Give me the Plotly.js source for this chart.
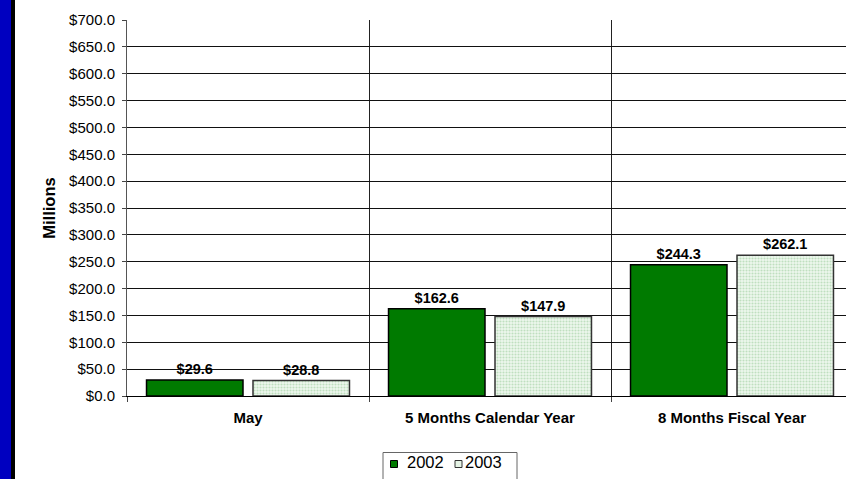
<!DOCTYPE html>
<html><head><meta charset="utf-8">
<script src="https://cdn.plot.ly/plotly-3.0.1.min.js"></script>
<style>html,body{margin:0;padding:0;overflow:hidden;background:#fff;width:846px;height:479px}</style>
</head><body><div id="chart"></div>
<script>
const categories = ["May", "5 Months Calendar Year", "8 Months Fiscal Year"];
const values2002 = [29.6, 162.6, 244.3];
const values2003 = [28.8, 147.9, 262.1];
const seriesNames = ["2002", "2003"];

const W = 860, H = 479, L = 127, R = 7, T = 20, B = 83;
const pw = W - L - R, ph = H - T - B;
const px = v => (v - L) / pw;          // pixel -> paper x
const py = v => (H - B - v) / ph;      // pixel -> paper y
const font = "Liberation Sans, Arial, sans-serif";
const c2002 = "#007a00", c2003 = "#e6f4e6";

const traces = [
  {type: "bar", name: seriesNames[0], x: categories, y: values2002,
   marker: {color: c2002, line: {color: "#000", width: 1.5}},
   texttemplate: "$%{y:.1f}", textposition: "outside", cliponaxis: false,
   textfont: {family: font, size: 14.5, color: "#000", weight: "bold"}},
  {type: "bar", name: seriesNames[1], x: categories, y: values2003,
   marker: {color: c2003, line: {color: "#333", width: 1.5},
            pattern: {shape: ".", fgcolor: "#bfdfbf", bgcolor: "#eef8ee", size: 3, solidity: 0.4}},
   texttemplate: "$%{y:.1f}", textposition: "outside", cliponaxis: false,
   textfont: {family: font, size: 14.5, color: "#000", weight: "bold"}}
];

const legendItems = [
  {sq: 390.5, tx: 405, color: c2002, line: "#000", name: seriesNames[0]},
  {sq: 455, tx: 463, color: c2003, line: "#333", name: seriesNames[1]}
];
const shapes = [
  {type: "rect", xref: "paper", yref: "paper", x0: px(0), x1: px(11), y0: py(H + 5), y1: py(-5),
   fillcolor: "#0000c0", line: {width: 0}, layer: "above"},
  {type: "rect", xref: "paper", yref: "paper", x0: px(11), x1: px(15), y0: py(H + 5), y1: py(-5),
   fillcolor: "#000", line: {width: 0}, layer: "above"},
  {type: "rect", xref: "paper", yref: "paper", x0: px(383), x1: px(517), y0: py(490), y1: py(452.5),
   fillcolor: "rgba(0,0,0,0)", line: {color: "#666", width: 1}, layer: "above"}
];
const annotations = [];
legendItems.forEach(it => {
  shapes.push({type: "rect", xref: "paper", yref: "paper", x0: px(it.sq), x1: px(it.sq + 7),
               y0: py(467.5), y1: py(460.5), fillcolor: it.color, line: {color: it.line, width: 1}, layer: "above"});
  annotations.push({xref: "paper", yref: "paper", x: px(it.tx), y: py(462), xanchor: "left", yanchor: "middle",
                    text: it.name, showarrow: false, font: {family: font, size: 16.5, color: "#000"}});
});

const layout = {
  width: W, height: H,
  margin: {l: L, r: R, t: T, b: B, autoexpand: false},
  paper_bgcolor: "#fff", plot_bgcolor: "#fff",
  barmode: "group", bargap: 0.12, bargroupgap: 0.094,
  font: {family: font, size: 15, color: "#000"},
  showlegend: false,
  xaxis: {type: "category", tickson: "boundaries", showgrid: true, gridcolor: "#222", gridwidth: 1,
          ticks: "outside", ticklen: 5, tickcolor: "#444", showline: true, linecolor: "#000",
          tickfont: {family: font, size: 15, weight: "bold"}, range: [-0.5, 2.5], ticklabelstandoff: 8},
  yaxis: {range: [0, 700], dtick: 50, tickformat: "$.1f", showgrid: true, gridcolor: "#111", gridwidth: 1,
          ticks: "outside", ticklen: 4, tickcolor: "#444", showline: true, linecolor: "#555",
          zeroline: false, tickfont: {family: font, size: 15}, ticklabelstandoff: 4,
          title: {text: "Millions", font: {family: font, size: 16.5, weight: "bold"}, standoff: 9}},
  shapes: shapes,
  annotations: annotations
};

Plotly.newPlot("chart", traces, layout, {displayModeBar: false, staticPlot: true});
</script></body></html>
